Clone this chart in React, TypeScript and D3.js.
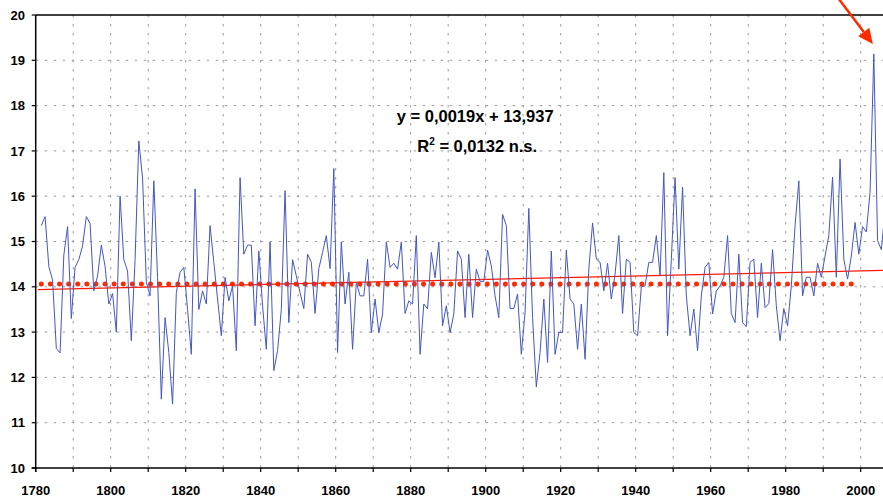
import React from 'react';
import * as d3 from 'd3';

// yearly values, first year 1781
const startYear = 1781;
const temps1781to1850 = [
  15.35, 15.55, 14.45, 14.15, 12.64, 12.54, 14.7, 15.33, 13.3, 14.43,
  14.6, 14.9, 15.55, 15.4, 13.91, 14.24, 14.92, 14.45, 13.62, 13.85,
  13.0, 16.0, 14.6, 14.35, 12.81, 14.6, 17.22, 16.4, 14.1, 13.8,
  16.34, 14.2, 11.52, 13.32, 12.55, 11.41, 13.87, 14.32, 14.43, 13.5,
  12.51, 16.16, 13.5, 13.91, 13.62, 15.35, 14.54, 13.73, 12.92, 14.21,
  13.69, 14.02, 12.59, 16.41, 14.72, 14.92, 14.92, 13.14, 14.79, 13.58,
  12.62, 14.99, 12.15, 12.59, 13.5, 16.12, 13.21, 14.6, 14.24, 13.87,
];
const temps1851to1920 = [
  13.52, 14.72, 14.54, 13.41, 14.4, 14.76, 15.13, 14.4, 16.61, 12.55,
  14.99, 13.62, 14.32, 12.62, 14.1, 13.8, 13.8, 14.61, 12.99, 13.73,
  12.99, 13.4, 14.99, 14.43, 14.52, 14.39, 14.99, 13.41, 13.69, 13.62,
  15.13, 12.51, 13.62, 13.51, 14.76, 14.2, 14.99, 13.14, 13.58, 12.99,
  13.4, 14.79, 14.61, 13.32, 14.72, 13.32, 14.39, 14.12, 14.12, 14.81,
  14.46, 13.8, 13.32, 15.6, 15.35, 13.52, 13.52, 13.84, 12.51, 13.43,
  15.73, 13.32, 11.79, 12.55, 13.73, 12.33, 14.79, 12.51, 12.99, 12.99,
];
const temps1921to2006 = [
  14.81, 13.73, 13.62, 12.62, 13.62, 12.4, 14.39, 15.41, 14.61, 14.54,
  13.91, 14.52, 13.73, 14.28, 15.13, 13.41, 14.61, 14.54, 12.99, 12.92,
  14.0, 14.02, 14.54, 14.54, 15.13, 14.25, 16.52, 12.92, 14.6, 16.41,
  14.39, 16.2, 13.8, 12.92, 13.51, 12.59, 13.8, 14.43, 14.54, 13.4,
  13.91, 14.02, 14.21, 15.13, 13.41, 13.21, 14.72, 13.21, 13.12, 14.54,
  14.61, 13.32, 14.52, 13.54, 13.63, 14.82, 13.58, 12.81, 13.52, 13.14,
  14.02, 15.35, 16.34, 13.8, 14.21, 14.21, 13.8, 14.52, 14.21, 14.68,
  15.13, 16.42, 14.21, 16.82, 14.61, 14.17, 14.68, 15.42, 14.72, 15.33,
  15.21, 16.08, 19.14, 15.02, 14.82, 15.7,
];
const temps = [...temps1781to1850, ...temps1851to1920, ...temps1921to2006];

const yTicks = [10, 11, 12, 13, 14, 15, 16, 17, 18, 19, 20];
const xTickYears = [1780, 1790, 1800, 1810, 1820, 1830, 1840, 1850, 1860, 1870, 1880,
  1890, 1900, 1910, 1920, 1930, 1940, 1950, 1960, 1970, 1980, 1990, 2000, 2010];
const xLabelYears = [1780, 1800, 1820, 1840, 1860, 1880, 1900, 1920, 1940, 1960, 1980, 2000];

// linear trend (x = running index from 1) and reference mean (dotted)
const trendSlope = 0.0019;
const trendIntercept = 13.937;
const meanValue = 14.06;
const meanYears = [1781, 1998];
const peakYear = 2003;

const W = 883;
const H = 497;
const FONT = 'Arial, "Liberation Sans", sans-serif';

export default function App() {
  const x = d3.scaleLinear().domain([1780, 2000]).range([35.7, 860.7]);
  const y = d3.scaleLinear().domain([10, 20]).range([468, 15]);
  const left = x(1780);
  const right = x(2010);
  const top = y(20);
  const bottom = y(10);

  // points sit in the middle of each year
  const px = (yr: number) => x(yr + 0.5);
  const data = temps.map((v, i) => ({ year: startYear + i, value: v }));
  const line = d3.line<{ year: number; value: number }>()
    .x(d => px(d.year))
    .y(d => y(d.value));

  const lastYear = startYear + temps.length - 1;
  const trendAt = (yr: number) => trendIntercept + trendSlope * (yr - startYear + 1);

  // arrow pointing at the 2003 peak
  const peakV = temps[peakYear - startYear];
  const tipX = px(peakYear) - 1;
  const tipY = y(peakV) - 10;
  const dir = [0.603, 0.798];
  const tailX = tipX - 60 * dir[0];
  const tailY = tipY - 60 * dir[1];
  const headLen = 15;
  const headW = 7;
  const bx = tipX - headLen * dir[0];
  const by = tipY - headLen * dir[1];
  const head = `M${tipX},${tipY}L${bx + headW * dir[1]},${by - headW * dir[0]}L${bx - headW * dir[1]},${by + headW * dir[0]}Z`;

  const eqX = x(1897.2);

  return (
    <svg width={W} height={H} style={{ position: 'absolute', left: 0, top: 0, background: '#fff' }}>
      {/* grid */}
      {yTicks.filter(t => t > 10 && t < 20).map(t => (
        <line key={'h' + t} x1={left} x2={right} y1={y(t)} y2={y(t)}
          stroke="#9a9a9a" strokeWidth={1} strokeDasharray="2.5 6.5" />
      ))}
      {xTickYears.filter(t => t > 1780).map(t => (
        <line key={'v' + t} x1={x(t)} x2={x(t)} y1={top} y2={bottom}
          stroke="#9a9a9a" strokeWidth={1} strokeDasharray="2.5 6.5" />
      ))}

      {/* reference mean, dotted */}
      <line x1={px(meanYears[0])} x2={px(meanYears[1])} y1={y(meanValue)} y2={y(meanValue)}
        stroke="#ff2a00" strokeWidth={5} strokeLinecap="round" strokeDasharray="0 9.1" />

      {/* trend */}
      <line x1={px(startYear) - 3.5} x2={px(lastYear) + 4}
        y1={y(trendAt(startYear))} y2={y(trendAt(lastYear))}
        stroke="#ff1a00" strokeWidth={1.2} />

      {/* series */}
      <path d={line(data) || ''} fill="none" stroke="#4357c2" strokeWidth={1} strokeLinejoin="round" />

      {/* frame and axes */}
      <line x1={left} x2={W} y1={top} y2={top} stroke="#000" strokeWidth={1.5} />
      <line x1={left} x2={left} y1={top} y2={bottom + 4} stroke="#000" strokeWidth={1.5} />
      <line x1={left - 4} x2={W} y1={bottom} y2={bottom} stroke="#000" strokeWidth={1.5} />
      {yTicks.map(t => (
        <g key={'yt' + t}>
          <line x1={left - 4} x2={left} y1={y(t)} y2={y(t)} stroke="#000" strokeWidth={1.2} />
          <text x={25} y={y(t)} dy="0.36em" textAnchor="end" fontFamily={FONT}
            fontWeight="bold" fontSize={13}>{t}</text>
        </g>
      ))}
      {xTickYears.map(t => (
        <line key={'xt' + t} x1={x(t)} x2={x(t)} y1={bottom} y2={bottom + 4} stroke="#000" strokeWidth={1.2} />
      ))}
      {xLabelYears.map(t => (
        <text key={'xl' + t} x={x(t)} y={494.5} textAnchor="middle" fontFamily={FONT}
          fontWeight="bold" fontSize={13}>{t}</text>
      ))}

      {/* regression equation */}
      <text x={eqX} y={121.7} textAnchor="middle" fontFamily={FONT} fontWeight="bold" fontSize={16.5}>
        y = 0,0019x + 13,937
      </text>
      <text x={eqX + 2} y={152} textAnchor="middle" fontFamily={FONT} fontWeight="bold" fontSize={16.5}>
        R<tspan fontSize={10} dy={-7}>2</tspan><tspan dy={7}> = 0,0132 n.s.</tspan>
      </text>

      {/* arrow */}
      <line x1={tailX} y1={tailY} x2={bx} y2={by} stroke="#ff2a00" strokeWidth={2.5} />
      <path d={head} fill="#ff2a00" />
    </svg>
  );
}
